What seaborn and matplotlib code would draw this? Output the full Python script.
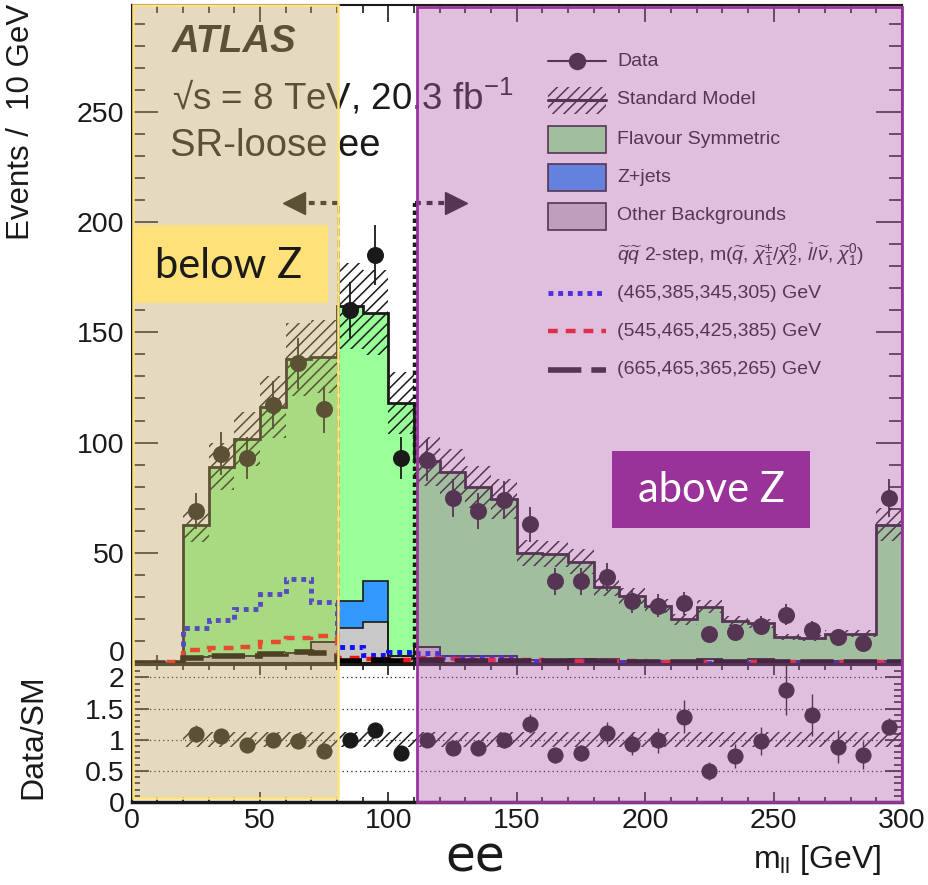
import numpy as np
import pandas as pd
import seaborn as sns
import matplotlib
matplotlib.use("Agg")
import matplotlib.pyplot as plt
from matplotlib.patches import Rectangle
from matplotlib.lines import Line2D
from matplotlib.ticker import MultipleLocator, FuncFormatter

# ---------------- data ----------------
bin_edges = [0, 10, 20, 30, 40, 50, 60, 70, 80, 90, 100, 110, 120, 130, 140, 150,
             160, 170, 180, 190, 200, 210, 220, 230, 240, 250, 260, 270, 280, 290, 300]
bin_centers = [5, 15, 25, 35, 45, 55, 65, 75, 85, 95, 105, 115, 125, 135, 145, 155,
               165, 175, 185, 195, 205, 215, 225, 235, 245, 255, 265, 275, 285, 295]

sm_total = [0, 0, 62.4, 89, 101.8, 116.2, 137.7, 139, 162, 159, 118, 91.5, 86.5, 79.9,
            74.4, 49.8, 49.4, 46, 34.7, 30.2, 26, 19.8, 25.6, 19, 18, 11.7, 11.4, 13.3,
            13.3, 62.7]
other_bkg = [0, 0, 2.5, 3, 3, 3.5, 4.5, 9.5, 15.8, 18.8, 3, 7.4, 3.2, 3.2, 3.2, 1.5, 1,
             2, 2, 1, 1, 1, 2, 1, 2, 1, 1, 1, 1, 1]
zjets = [0, 0, 0, 0, 0, 0, 0, 0, 12.1, 18.2, 0, 0, 0, 0, 0, 0, 0, 0, 0, 0, 0, 0, 0, 0,
         0, 0, 0, 0, 0, 0]
sm_rel_unc = [0.12] * 30

data_counts = [np.nan, np.nan, 69, 95, 93, 117, 136, 115, 160, 185, 93, 92, 75, 69, 74,
               63, 37, 37, 39, 28, 26, 27, 13, 14, 17, 22, 15, 12, 9, 75]
data_ratio = [np.nan, np.nan, 1.10, 1.06, 0.91, 1.00, 0.98, 0.82, 0.99, 1.16, 0.79, 1.00,
              0.87, 0.86, 0.99, 1.26, 0.75, 0.79, 1.11, 0.93, 0.99, 1.37, 0.50, 0.74,
              0.98, 1.80, 1.40, 0.89, 0.75, 1.21]

sig_465 = [0, 0, 15.8, 19.5, 24.4, 31.4, 38, 27.6, 7.4, 3.6, 5.1, 4.5, 2.6, 2.8, 2.8, 0.8,
           0.6, 0.5, 0.4, 0.3, 0.3, 0.3, 0.2, 0.2, 0.2, 0.2, 0.1, 0.1, 0.1, 0.1]
sig_545 = [0, 0.3, 5.9, 7.0, 7.4, 9.7, 11.2, 12.2, 2.4, 2.0, 1.5, 2.4, 1.8, 1.5, 1.4, 1.2,
           1.0, 0.9, 0.8, 0.7, 0.6, 0.6, 0.5, 0.5, 0.5, 0.4, 0.4, 0.4, 0.3, 0.3]
sig_665 = [0, 0, 2.1, 3.2, 3.0, 4.1, 5.1, 4.5, 1.0, 1.5, 1.0, 1.2, 1.0, 1.0, 0.9, 0.8,
           0.7, 0.7, 0.6, 0.5, 0.5, 0.5, 0.4, 0.4, 0.4, 0.3, 0.3, 0.3, 0.3, 0.3]

legend_labels = ["Data", "Standard Model", "Flavour Symmetric", "Z+jets", "Other Backgrounds",
                 r"$\widetilde{q}\widetilde{q}$ 2-step, m($\widetilde{q}$, "
                 r"$\widetilde{\chi}_1^{\pm}/\widetilde{\chi}_2^0$, $\widetilde{l}/\widetilde{\nu}$, "
                 r"$\widetilde{\chi}_1^0$)",
                 "(465,385,345,305) GeV", "(545,465,425,385) GeV", "(665,465,365,265) GeV"]

# ---------------- style ----------------
sns.set_theme(style="ticks")
plt.rcParams["font.family"] = ["Liberation Sans", "DejaVu Sans"]
plt.rcParams["mathtext.fontset"] = "custom"
plt.rcParams["mathtext.rm"] = "Liberation Sans"
plt.rcParams["mathtext.it"] = "Liberation Sans:italic"
plt.rcParams["mathtext.bf"] = "Liberation Sans:bold"
plt.rcParams["hatch.linewidth"] = 1.1
plt.rcParams["axes.linewidth"] = 1.5

W, H = 929, 885
fig = plt.figure(figsize=(W / 100, H / 100), dpi=100)


def fx(x):
    return x / W


def fy(y):
    return 1 - y / H


AX_L, AX_R = 131.5, 902
ax = fig.add_axes([fx(AX_L), fy(663), (AX_R - AX_L) / W, (663 - 5) / H])
ax2 = fig.add_axes([fx(AX_L), fy(802), (AX_R - AX_L) / W, (802 - 665) / H])

edges = np.array(bin_edges, dtype=float)
tot = np.array(sm_total)
oth = np.array(other_bkg)
zj = np.array(zjets)
unc = np.array(sm_rel_unc)
dat = np.array(data_counts, dtype=float)
rat = np.array(data_ratio, dtype=float)

# ---------------- main panel ----------------
ax.stairs(oth, edges, baseline=0, fill=True, color="#C8C8C8", zorder=2)
ax.stairs(oth + zj, edges, baseline=oth, fill=True, color="#3399FF", zorder=2)
ax.stairs(tot, edges, baseline=oth + zj, fill=True, color="#99FF99", zorder=2)
ax.stairs(oth, edges, baseline=None, color="k", lw=1.2, zorder=3)
ax.stairs(oth + zj, edges, baseline=None, color="k", lw=1.2, zorder=3)
ax.stairs(tot, edges, baseline=None, color="k", lw=2.0, zorder=4)
ax.stairs(tot * (1 + unc), edges, baseline=tot * (1 - unc), fill=True, hatch="///",
          facecolor="none", edgecolor="k", lw=0, zorder=4)

ax.stairs(sig_465, edges, baseline=None, color="#1010FF", lw=3.5, ls=(0, (1, 1)), zorder=5)
ax.stairs(sig_545, edges, baseline=None, color="#FF1010", lw=3.2, ls=(0, (2.2, 1.8)), zorder=5)
ax.stairs(sig_665, edges, baseline=None, color="black", lw=4, ls=(0, (6, 1.8)), zorder=5)

ax.errorbar(bin_centers, dat, yerr=np.sqrt(dat), fmt="none", ecolor="k", elinewidth=1.3,
            zorder=6)
sns.scatterplot(x=bin_centers, y=dat, ax=ax, color="k", s=150, linewidth=0, zorder=7)

# Z-window boundaries with arrows
yarr = 208.6
ax.plot([80.5, 80.5], [0, yarr], color="k", lw=1.8, ls=(0, (3, 1.5)), zorder=8)
ax.plot([80.5, 66], [yarr, yarr], color="k", lw=3, ls=(0, (1.4, 1.4)), zorder=8)
ax.plot([63.3], [yarr], marker="<", ms=16, color="k", zorder=8)
ax.plot([110.5, 110.5], [0, yarr], color="k", lw=3.2, ls=(0, (1, 0.8)), zorder=8)
ax.plot([110.5, 123], [yarr, yarr], color="k", lw=3, ls=(0, (1.4, 1.4)), zorder=8)
ax.plot([126.3], [yarr], marker=">", ms=16, color="k", zorder=8)

ax.set_xlim(0, 300)
ax.set_ylim(0, 298.5)
ax.xaxis.set_major_locator(MultipleLocator(50))
ax.xaxis.set_minor_locator(MultipleLocator(10))
ax.yaxis.set_major_locator(MultipleLocator(50))
ax.yaxis.set_minor_locator(MultipleLocator(10))
ax.yaxis.set_major_formatter(FuncFormatter(lambda v, p: "" if v == 0 else "%d" % v))
ax.tick_params(axis="both", which="both", direction="in", top=True, right=True, width=1.2,
               colors="k")
ax.tick_params(axis="x", which="major", length=12, labelbottom=False)
ax.tick_params(axis="x", which="minor", length=6)
ax.tick_params(axis="y", which="major", length=19, labelsize=20.5, pad=5)
ax.tick_params(axis="y", which="minor", length=9.5)
ax.set_xlabel("")
ax.set_ylabel("")
for s in ax.spines.values():
    s.set_color("k")
    s.set_linewidth(1.5)
# the "0" of the upper panel sits just above its axis, as in the original
fig.text(fx(125), fy(661), "0", fontsize=20.5, ha="right", va="baseline", color="k")

# ---------------- ratio panel ----------------
ax2.stairs(1 + unc[2:], edges[2:], baseline=1 - unc[2:], fill=True, hatch="///",
           facecolor="none", edgecolor="k", lw=0, zorder=2)
for yv in [0.5, 1.0, 1.5, 2.0]:
    ax2.axhline(yv, color="k", lw=0.9, ls=(0, (1, 2.5)), zorder=1)
ax2.errorbar(bin_centers, rat, yerr=np.sqrt(dat) / np.where(tot > 0, tot, np.nan),
             fmt="none", ecolor="k", elinewidth=1.0, zorder=4)
sns.scatterplot(x=bin_centers, y=rat, ax=ax2, color="k", s=135, linewidth=0, zorder=5)
ax2.set_xlim(0, 300)
ax2.set_ylim(0, 2.2)
ax2.xaxis.set_major_locator(MultipleLocator(50))
ax2.xaxis.set_minor_locator(MultipleLocator(10))
ax2.yaxis.set_major_locator(MultipleLocator(0.5))
ax2.yaxis.set_minor_locator(MultipleLocator(0.1))
ax2.yaxis.set_major_formatter(FuncFormatter(lambda v, p: "%g" % v))
ax2.tick_params(axis="both", which="both", direction="in", top=True, right=True, width=1.2,
                colors="k")
ax2.tick_params(axis="x", which="major", length=7, labelsize=20.5, pad=4)
ax2.tick_params(axis="x", which="minor", length=3.5)
ax2.tick_params(axis="y", which="major", length=12, labelsize=20.5, pad=5)
ax2.tick_params(axis="y", which="minor", length=6)
ax2.set_xlabel("")
ax2.set_ylabel("")
for s in ax2.spines.values():
    s.set_color("k")
    s.set_linewidth(1.5)
ax2.spines["bottom"].set_linewidth(2.5)

# ---------------- texts ----------------
fig.text(fx(172), fy(42), "ATLAS", fontsize=27.5, weight="bold", style="italic",
         va="center", ha="left", color="k")
fig.text(fx(172), fy(97), "\u221as = 8 TeV, 20.3 fb$^{\\mathregular{-1}}$", fontsize=26.5,
         va="center", ha="left", color="k")
fig.text(fx(170), fy(146), "SR-loose ee", fontsize=27.5, va="center", ha="left", color="k")

fig.text(fx(21), fy(4), "Events /  10 GeV", rotation=90, fontsize=22.5, ha="center",
         va="top", color="k")
fig.text(fx(33), fy(737), "Data/SM", rotation=90, fontsize=23, ha="center",
         va="center", color="k")
fig.text(fx(475), fy(857), "ee", fontsize=35, family=["DejaVu Sans"], ha="center",
         va="center", color="k")
fig.text(fx(881), fy(860), r"m$_{\mathregular{ll}}$ [GeV]", fontsize=23, ha="right",
         va="center", color="k")

# ---------------- legend (drawn by hand in figure pixels) ----------------
hx0, hx1, tx = 548, 606, 617
rows = [61, 100, 139, 177, 216, 255, 293, 331, 370]
tr = fig.transFigure
fig.add_artist(Line2D([fx(hx0), fx(hx1)], [fy(rows[0])] * 2, color="k", lw=1.5, transform=tr))
fig.add_artist(Line2D([fx(577)], [fy(rows[0])], marker="o", ms=11.5, color="k", transform=tr))
hh = 27
fig.add_artist(Rectangle((fx(hx0), fy(rows[1] + hh / 2)), (hx1 - hx0) / W, hh / H,
                         transform=tr, facecolor="none", edgecolor="k", lw=0, hatch="///"))
fig.add_artist(Line2D([fx(hx0), fx(hx1)], [fy(rows[1])] * 2, color="k", lw=2.2, transform=tr))
for r, col in zip(rows[2:5], ["#99FF99", "#3399FF", "#C8C8C8"]):
    fig.add_artist(Rectangle((fx(hx0), fy(r + hh / 2)), (hx1 - hx0) / W, hh / H,
                             transform=tr, facecolor=col, edgecolor="k", lw=1.2))
fig.add_artist(Line2D([fx(hx0), fx(hx1)], [fy(rows[6])] * 2, color="#1010FF", lw=3.5,
                      ls=(0, (1, 1)), transform=tr))
fig.add_artist(Line2D([fx(hx0), fx(hx1)], [fy(rows[7])] * 2, color="#FF1010", lw=3.2,
                      ls=(0, (2.2, 1.8)), transform=tr))
fig.add_artist(Line2D([fx(hx0), fx(hx1)], [fy(rows[8])] * 2, color="k", lw=4,
                      ls=(0, (6, 1.8)), transform=tr))
for r, lab in zip(rows, legend_labels):
    fig.text(fx(tx), fy(r), lab, fontsize=14, ha="left", va="center", color="k")

# ---------------- region overlays ----------------
fig.add_artist(Rectangle((fx(133), fy(798)), (338 - 133) / W, (798 - 5) / H, transform=tr,
                         facecolor="#C0A45F", alpha=0.4, lw=0, zorder=10))
fig.add_artist(Rectangle((fx(133), fy(798)), (338 - 133) / W, (798 - 5) / H, transform=tr,
                         facecolor="none", edgecolor="#FFE27A", lw=1.8, zorder=11))
fig.add_artist(Rectangle((fx(417), fy(802)), (902 - 417) / W, (802 - 7) / H, transform=tr,
                         facecolor="#AF5FAA", alpha=0.4, lw=0, zorder=10))
fig.add_artist(Rectangle((fx(417), fy(802)), (902 - 417) / W, (802 - 7) / H, transform=tr,
                         facecolor="none", edgecolor="#993399", lw=2.0, zorder=11))

fig.add_artist(Rectangle((fx(133), fy(303)), (328 - 133) / W, (303 - 225) / H, transform=tr,
                         facecolor="#FFE17A", lw=0, zorder=12))
fig.text(fx(229), fy(266), "below Z", fontsize=30, family=["Lato", "DejaVu Sans"],
         ha="center", va="center", color="k", zorder=13)
fig.add_artist(Rectangle((fx(612), fy(528)), (810 - 612) / W, (528 - 451) / H, transform=tr,
                         facecolor="#993399", lw=0, zorder=12))
fig.text(fx(711), fy(490), "above Z", fontsize=30, family=["Lato", "DejaVu Sans"],
         ha="center", va="center", color="white", zorder=13)

fig.savefig("out.png", dpi=100)
